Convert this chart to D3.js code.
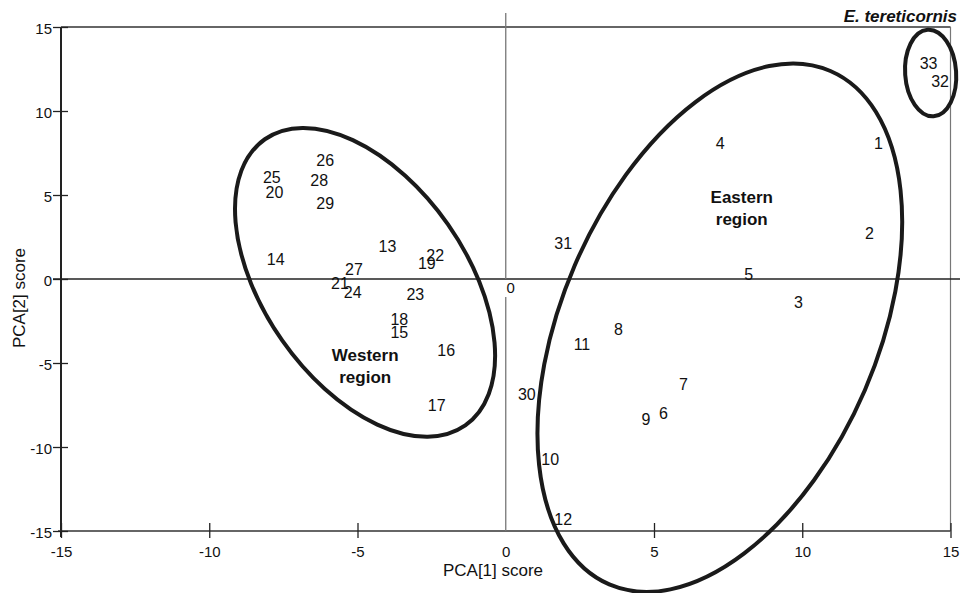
<!DOCTYPE html>
<html>
<head>
<meta charset="utf-8">
<script src="https://cdn.jsdelivr.net/npm/d3@7"></script>
<style>
  body { margin: 0; background: #fff; }
  text { font-family: "Liberation Sans", Arial, sans-serif; fill: #111; }
</style>
</head>
<body>
<div id="chart"></div>
<script>
// sample numbers and their PCA scores
const sampleIds = [1, 2, 3, 4, 5, 6, 7, 8, 9, 10, 11, 12, 13, 14, 15, 16, 17,
  18, 19, 20, 21, 22, 23, 24, 25, 26, 27, 28, 29, 30, 31, 32, 33];
const pc1Scores = [12.57, 12.27, 9.87, 7.23, 8.19, 5.32, 5.99, 3.80, 4.73, 1.50, 2.57, 1.94,
  -3.99, -7.76, -3.59, -2.01, -2.33, -3.59, -2.66, -7.80, -5.59, -2.38, -3.05, -5.16,
  -7.89, -6.09, -5.12, -6.29, -6.09, 0.71, 1.94, 14.65, 14.26];
const pc2Scores = [8.10, 2.74, -1.37, 8.06, 0.31, -7.98, -6.29, -3.01, -8.37, -10.75, -3.89, -14.32,
  1.95, 1.15, -3.15, -4.24, -7.52, -2.42, 0.92, 5.18, -0.24, 1.41, -0.91, -0.77,
  6.04, 7.07, 0.56, 5.88, 4.52, -6.86, 2.11, 11.77, 12.82];

const xTicks = [-15, -10, -5, 0, 5, 10, 15];
const yTicks = [-15, -10, -5, 0, 5, 10, 15];

const regionNames = [["Western", "region"], ["Eastern", "region"]];
const regionX = [-4.74, 7.96];
const regionY = [-5.16, 4.21];

// group outlines: centre in data units, radii in px, rotation in degrees
const outlines = [
  { cx: -4.745, cy: -0.2, rx: 174.7, ry: 101.2, rot: 55 },
  { cx: 7.22, cy: -2.9, rx: 279.5, ry: 157.9, rot: -66.7 },
  { cx: 14.33, cy: 12.26, rx: 25.5, ry: 43.3, rot: -4 }
];

const width = 960, height = 593;
const plotLeft = 61, plotRight = 950.5, plotTop = 27, plotBottom = 531;

const svg = d3.select("#chart").append("svg")
  .attr("width", width)
  .attr("height", height);

const x = d3.scaleLinear().domain([-15, 15]).range([plotLeft, plotRight]);
const y = d3.scaleLinear().domain([-15, 15]).range([plotBottom, plotTop]);

// plain hyphen for negative ticks, like the original
const tickFmt = d => String(d);

// frame
svg.append("line").attr("x1", plotLeft).attr("x2", plotLeft).attr("y1", plotTop).attr("y2", plotBottom + 6)
  .attr("stroke", "#222").attr("stroke-width", 2);
svg.append("line").attr("x1", plotLeft).attr("x2", plotRight).attr("y1", plotTop).attr("y2", plotTop)
  .attr("stroke", "#333").attr("stroke-width", 1.5);
svg.append("line").attr("x1", plotRight).attr("x2", plotRight).attr("y1", plotTop).attr("y2", plotBottom)
  .attr("stroke", "#777").attr("stroke-width", 1.2);
svg.append("line").attr("x1", plotLeft - 3).attr("x2", plotRight).attr("y1", plotBottom).attr("y2", plotBottom)
  .attr("stroke", "#333").attr("stroke-width", 1.5);

// zero lines
svg.append("line").attr("x1", plotLeft - 8).attr("x2", width).attr("y1", y(0)).attr("y2", y(0))
  .attr("stroke", "#222").attr("stroke-width", 1.5);
svg.append("line").attr("x1", x(0)).attr("x2", x(0)).attr("y1", 13).attr("y2", y(0))
  .attr("stroke", "#777").attr("stroke-width", 1.3);
svg.append("line").attr("x1", x(0)).attr("x2", x(0)).attr("y1", y(0) + 18).attr("y2", plotBottom)
  .attr("stroke", "#777").attr("stroke-width", 1.3);
svg.append("text")
  .attr("x", x(0) + 5).attr("y", y(0) + 9)
  .attr("dy", "0.35em")
  .attr("text-anchor", "middle")
  .style("font-size", "15px")
  .text("0");

// axes
const xAxis = svg.append("g")
  .attr("transform", "translate(0," + plotBottom + ")")
  .call(d3.axisBottom(x).tickValues(xTicks).tickFormat(tickFmt).tickSize(7).tickSizeOuter(0));
xAxis.select(".domain").remove();
xAxis.selectAll(".tick line").attr("y1", -8).attr("y2", 7)
  .attr("stroke", "#222").attr("stroke-width", 1.3);
xAxis.selectAll(".tick text").attr("y", 15)
  .style("font-size", "15px").style("font-family", "Liberation Sans, Arial, sans-serif")
  .attr("fill", "#111");
xAxis.selectAll(".tick").filter(d => d === 0).select("line").remove();

const yAxis = svg.append("g")
  .attr("transform", "translate(" + plotLeft + ",0)")
  .call(d3.axisLeft(y).tickValues(yTicks).tickFormat(tickFmt).tickSize(8).tickSizeOuter(0));
yAxis.select(".domain").remove();
yAxis.selectAll(".tick line").attr("x1", -8).attr("x2", 7)
  .attr("stroke", "#222").attr("stroke-width", 1.3);
yAxis.selectAll(".tick text").attr("x", -9).attr("dy", "0.45em")
  .style("font-size", "15px").style("font-family", "Liberation Sans, Arial, sans-serif")
  .attr("fill", "#111");

// axis titles
svg.append("text")
  .attr("x", 493).attr("y", 576)
  .attr("text-anchor", "middle")
  .style("font-size", "17px")
  .text("PCA[1] score");
svg.append("text")
  .attr("transform", "translate(25,298) rotate(-90)")
  .attr("text-anchor", "middle")
  .style("font-size", "17px")
  .text("PCA[2] score");

// group outlines
svg.selectAll(".outline")
  .data(outlines)
  .enter()
  .append("ellipse")
  .attr("class", "outline")
  .attr("cx", d => x(d.cx))
  .attr("cy", d => y(d.cy))
  .attr("rx", d => d.rx)
  .attr("ry", d => d.ry)
  .attr("transform", d => "rotate(" + d.rot + "," + x(d.cx) + "," + y(d.cy) + ")")
  .attr("fill", "none")
  .attr("stroke", "#1a1a1a")
  .attr("stroke-width", 4);

// sample labels
svg.selectAll(".sample")
  .data(sampleIds)
  .enter()
  .append("text")
  .attr("class", "sample")
  .attr("x", (d, i) => x(pc1Scores[i]))
  .attr("y", (d, i) => y(pc2Scores[i]))
  .attr("dy", "0.36em")
  .attr("text-anchor", "middle")
  .style("font-size", "16px")
  .text(d => d);

// region names
const regions = svg.selectAll(".region")
  .data(regionNames)
  .enter()
  .append("text")
  .attr("class", "region")
  .attr("text-anchor", "middle")
  .style("font-size", "17px")
  .style("font-weight", "bold");
regions.selectAll("tspan")
  .data((d, i) => d.map(s => ({ s: s, i: i })))
  .enter()
  .append("tspan")
  .attr("x", d => x(regionX[d.i]))
  .attr("y", (d, j) => y(regionY[d.i]) - 11 + j * 22)
  .attr("dy", "0.36em")
  .text(d => d.s);

svg.append("text")
  .attr("x", 957).attr("y", 22)
  .attr("text-anchor", "end")
  .style("font-size", "17px")
  .style("font-weight", "bold")
  .style("font-style", "italic")
  .text("E. tereticornis");
</script>
</body>
</html>
